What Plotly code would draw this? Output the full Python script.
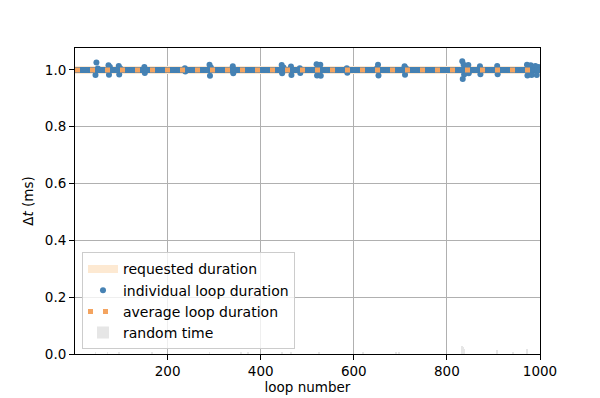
import plotly.graph_objects as go

# ---- data ----
n_loops = 1000
loop_numbers = list(range(1, n_loops + 1))
requested_duration = 1.0   # ms
average_duration = 1.0     # ms

# loops whose individual duration visibly deviates from 1.0 ms (others sit at 1.0)
deviating_loops = [45, 47, 50, 73, 74, 76, 95, 96, 98, 150, 151, 237, 238,
                   290, 291, 293, 340, 341, 445, 446, 449, 465, 466, 484, 485,
                   520, 521, 524, 528, 529, 585, 586, 650, 652, 653, 709, 710, 712,
                   833, 834, 836, 837, 840, 842, 846, 847, 871, 872, 908, 909,
                   972, 973, 980, 982, 990, 993, 997]
deviating_values = [0.982, 1.026, 1.005, 1.016, 0.983, 1.010, 1.014, 0.984, 1.006, 1.010, 0.989, 1.006, 0.994,
                    1.018, 0.979, 1.008, 1.013, 0.988, 1.017, 0.988, 1.008, 1.012, 0.982, 1.006, 0.989,
                    1.020, 0.980, 1.010, 1.018, 0.979, 1.006, 0.990, 1.006, 1.018, 0.980, 1.013, 0.983, 1.006,
                    1.030, 0.968, 1.018, 0.984, 1.008, 0.992, 1.017, 0.988, 1.013, 0.985, 1.014, 0.985,
                    1.018, 0.980, 1.016, 0.982, 1.014, 0.982, 1.010]

# random time (ms) injected at a few loops
random_loops = [45, 71, 95, 166, 290, 358, 372, 445, 465, 525, 620, 690, 697,
                832, 834, 836, 907, 942, 972]
random_values = [0.004, 0.006, 0.004, 0.005, 0.004, 0.006, 0.004, 0.004, 0.004, 0.007, 0.005, 0.005, 0.006,
                 0.028, 0.025, 0.018, 0.014, 0.004, 0.017]

x_ticks = [200, 400, 600, 800, 1000]
y_ticks = [0.0, 0.2, 0.4, 0.6, 0.8, 1.0]

individual = [1.0] * n_loops
for lp, v in zip(deviating_loops, deviating_values):
    individual[lp - 1] = v

font = dict(family="DejaVu Sans", size=13.5, color="black")
legend_font = dict(family="DejaVu Sans", size=14, color="black")

fig = go.Figure()
fig.add_trace(go.Scatter(
    x=[loop_numbers[0], loop_numbers[-1]], y=[requested_duration] * 2,
    mode="lines", line=dict(color="#fde9d2", width=8),
    name="requested duration"))
fig.add_trace(go.Scatter(
    x=loop_numbers, y=individual, mode="markers",
    marker=dict(color="#4682b4", size=6),
    name="individual loop duration"))
fig.add_trace(go.Scatter(
    x=[loop_numbers[0], loop_numbers[-1]], y=[average_duration] * 2,
    mode="lines", line=dict(color="#f4a460", width=5, dash="5px,10px"),
    name="average loop duration"))
fig.add_trace(go.Bar(
    x=random_loops, y=random_values, width=1.6,
    marker=dict(color="#e6e6e6", line=dict(width=0)),
    name="random time"))

axis_common = dict(showline=True, linecolor="black", linewidth=1, mirror=True,
                   ticks="outside", ticklen=5, tickwidth=1, tickcolor="black",
                   showgrid=True, gridcolor="#b0b0b0", gridwidth=1, zeroline=False,
                   tickfont=font, automargin=False)
fig.update_xaxes(range=[1, 1000], tickvals=x_ticks,
                 title=dict(text="loop number", font=font, standoff=4), **axis_common)
fig.update_yaxes(range=[0, 1.077], tickvals=y_ticks, tickformat=".1f",
                 title=dict(text="Δ<i>t</i> (ms)", font=font, standoff=8), **axis_common)

# the page body adds an 8px margin, so the figure is sized/offset to compensate
fig.update_layout(
    width=592, height=390,
    margin=dict(l=67, r=60, t=40, b=44),
    plot_bgcolor="white", paper_bgcolor="white",
    font=font,
    showlegend=True,
    legend=dict(x=0.015, y=0.015, xanchor="left", yanchor="bottom",
                bgcolor="rgba(255,255,255,0.8)", bordercolor="#cccccc", borderwidth=1,
                font=legend_font, tracegroupgap=0),
    bargap=0,
)

fig.write_html("out.html")
